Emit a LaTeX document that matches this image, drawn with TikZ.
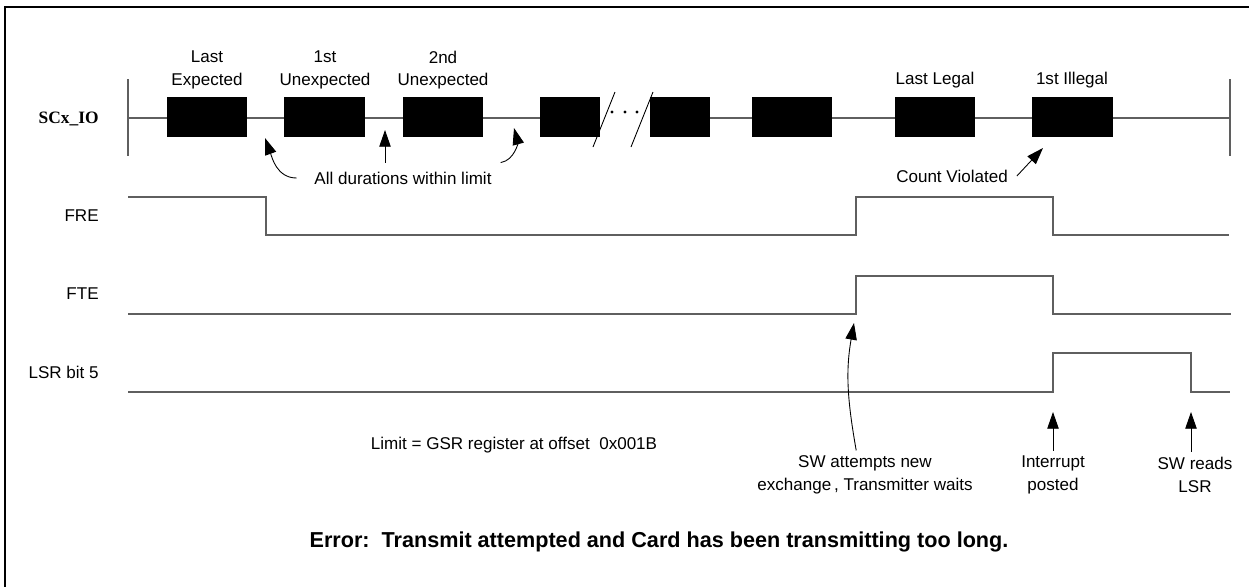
\documentclass[tikz,border=0pt]{standalone}
\usepackage{fontspec}
\setmainfont{Liberation Sans}
\newfontfamily\serifbf{Liberation Serif}
\usetikzlibrary{arrows.meta, positioning}
\definecolor{wire}{RGB}{95,95,95}

\begin{document}
\begin{tikzpicture}[x=0.02cm, y=-0.02cm, font=\fontsize{9.7}{12.8}\selectfont,
  wave/.style={wire, line width=0.7pt},
  lbl/.style={anchor=east, inner sep=0pt},
  note/.style={align=center, inner sep=3pt},
  arr/.style={-{Triangle[length=9.5pt, width=6.5pt]}, line width=0.5pt}]
\useasboundingbox (0,0) rectangle (1249,586);
\draw[line width=1.2pt] (5,7) rectangle (1262,600);

\node[lbl] (scx) at (99,119) {\fontsize{9.9}{12}\serifbf\bfseries SCx\_IO};
\node[lbl] (fre) at (99,216) {FRE};
\node[lbl] (fte) at (99,294) {FTE};
\node[lbl] (lsr) at (99,372) {LSR bit 5};

\draw[wave] (128,79) -- (128,156);
\draw[wave] (1230,79) -- (1230,156);
\draw[wave] (128,118) -- (600,118);
\draw[wave] (650,118) -- (1230,118);
\foreach \a/\b in {167/247, 284/365, 403/483, 540/600, 650/710, 752/832, 895/975, 1032/1113}
  \fill (\a,97) rectangle (\b,137);
\draw[line width=0.5pt] (593,147) -- (615,92);
\draw[line width=0.5pt] (631,147) -- (653,92);
\foreach \d in {612,625,637}
  \fill (\d,112) circle (1.6);

\node[note] (lexp) at (207,70) {Last\\Expected};
\node[note] (unx1) at (325,70) {1st\\Unexpected};
\node[note] (unx2) at (443,70) {2nd\\Unexpected};
\node[note] (llgl) at (935,80) {Last Legal};
\node[note] (ilgl) at (1072,80) {1st Illegal};

\node[note, inner sep=5pt] (dur) at (403,178) {All durations within limit};
\coordinate (gapa) at (265,138);
\coordinate (gapb) at (385,130);
\coordinate (gapc) at (514,128);
\draw[arr] ([xshift=-5pt]dur.west) to[out=180, in=-70] (gapa);
\draw[arr] (dur.north -| gapb) -- (gapb);
\draw[arr] (dur.north east) to[out=10, in=-75] (gapc);

\node[note, inner sep=5pt] (cnt) at (952,176) {Count Violated};
\coordinate (cnttip) at (1043,148);
\draw[arr] (cnt.east) -- (cnttip);

\draw[wave] (128,197) -- (266,197) -- (266,235) -- (856,235) -- (856,197) -- (1053,197) -- (1053,235) -- (1229,235);
\draw[wave] (128,314) -- (856,314) -- (856,276) -- (1053,276) -- (1053,314) -- (1231,314);
\draw[wave] (128,392) -- (1053,392) -- (1053,353) -- (1191,353) -- (1191,392) -- (1230,392);

\node[note] (limit) at (514,445) {Limit = GSR register at offset\ \ 0x001B};
\node[note] (swtry) at (865,475) {SW attempts new\\exchange\,, Transmitter waits};
\node[note] (intr) at (1053,475) {Interrupt\\posted};
\node[note] (swrd) at (1195,475) {SW reads\\LSR};
\coordinate (swtip) at (854,323);
\coordinate (inttip) at (1053,412);
\coordinate (rdtip) at (1191,412);
\draw[arr] ([xshift=-5pt]swtry.north) to[out=100, in=-100] (swtip);
\draw[arr] (intr.north) -- (inttip);
\draw[arr] (swrd.north -| rdtip) -- (rdtip);

\node[font=\fontsize{12.3}{14}\selectfont\bfseries] (err) at (659,542) {Error:\ \ Transmit attempted and Card has been transmitting too long.};
\end{tikzpicture}
\end{document}
